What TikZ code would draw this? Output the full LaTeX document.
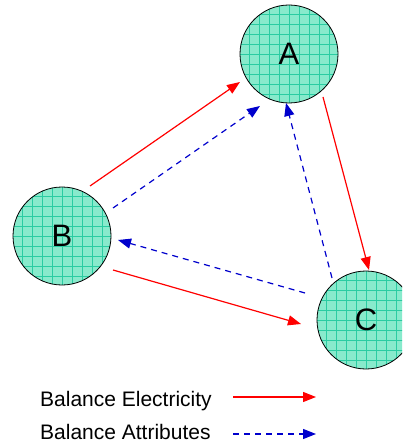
\documentclass[tikz,border=0pt]{standalone}
\usepackage{fontspec}
\setmainfont{Liberation Sans}
\usetikzlibrary{arrows.meta}
\definecolor{mint}{HTML}{88EACC}
\definecolor{gridc}{HTML}{2ACCA2}
\definecolor{elec}{HTML}{FF0000}
\definecolor{attr}{HTML}{0000CC}
\tikzset{
  ball/.style={circle, draw=black, line width=0.8pt, minimum size=98pt, inner sep=0pt, font=\fontsize{31}{31}\selectfont},
  gridline/.style={gridc, line width=0.6pt},
  elecarrow/.style={draw=elec, line width=1.2pt, -{Triangle[length=13pt,width=10pt]}},
  attrarrow/.style={draw=attr, line width=1.2pt, dash pattern=on 6pt off 5pt, -{Triangle[length=13pt,width=10pt]}},
  legend/.style={anchor=west, inner sep=0pt, font=\fontsize{21}{21}\selectfont}
}
\newcommand{\gridball}[3]{%
  \fill[mint] (#1,#2) circle (49);
  \begin{scope}
    \clip (#1,#2) circle (49);
    \foreach \d in {-50,-40,...,50} {
      \draw[gridline] (#1+\d,#2-55) -- (#1+\d,#2+55);
      \draw[gridline] (#1-55,#2+\d) -- (#1+55,#2+\d);
    }
  \end{scope}
  \node[ball] (#3) at (#1,#2) {#3};
}
\begin{document}
\begin{tikzpicture}[x=1pt,y=-1pt]
\useasboundingbox (0,0) rectangle (402,443);
\begin{scope}
\clip (0,0) rectangle (402,443);
\gridball{289}{54}{A}
\gridball{62}{236}{B}
\gridball{366}{320}{C}
\end{scope}
% endpoints
\coordinate (ba1s) at (90,186);  \coordinate (ba1e) at (240,82);
\coordinate (ba2s) at (113,208); \coordinate (ba2e) at (260,106);
\coordinate (ac1s) at (323,97);  \coordinate (ac1e) at (369,270);
\coordinate (ca2s) at (332,278); \coordinate (ca2e) at (286,103);
\coordinate (cb2s) at (305,293); \coordinate (cb2e) at (118,240);
\coordinate (bc1s) at (113,270); \coordinate (bc1e) at (301,324);
\draw[elecarrow] (ba1s) -- (ba1e);
\draw[attrarrow] (ba2s) -- (ba2e);
\draw[elecarrow] (ac1s) -- (ac1e);
\draw[attrarrow] (ca2s) -- (ca2e);
\draw[attrarrow] (cb2s) -- (cb2e);
\draw[elecarrow] (bc1s) -- (bc1e);
% legend
\node[legend] (le) at (40,401) {Balance Electricity};
\node[legend] (la) at (40,432) {Balance Attributes};
\coordinate (les) at (233,397); \coordinate (lee) at (316,397);
\coordinate (las) at (233,434); \coordinate (lae) at (316,434);
\draw[elecarrow] (les) -- (lee);
\draw[attrarrow] (las) -- (lae);
\end{tikzpicture}
\end{document}
